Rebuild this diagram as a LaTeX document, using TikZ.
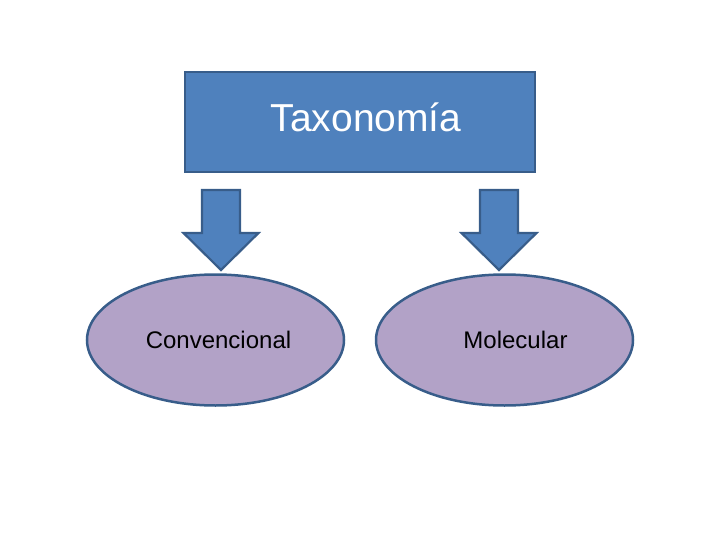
\documentclass[tikz,border=0pt]{standalone}
\usepackage{fontspec}
\setmainfont{Liberation Sans}
\usetikzlibrary{shapes.geometric}

\definecolor{boxblue}{HTML}{4F81BD}
\definecolor{edgeblue}{HTML}{385D8A}
\definecolor{lilac}{HTML}{B2A2C7}

\begin{document}
\begin{tikzpicture}[
  x=1pt, y=-1pt,
  top/.style={draw=edgeblue, line width=2.5pt, fill=boxblue, minimum width=350pt, minimum height=100pt, inner sep=0pt},
  oval/.style={ellipse, draw=edgeblue, line width=2.5pt, fill=lilac, minimum width=257pt, minimum height=131pt, inner sep=0pt},
  lbl/.style={font=\fontsize{24}{28}\selectfont},
  downarrow/.pic={
    \draw[draw=edgeblue, line width=2.2pt, fill=boxblue, line join=miter]
      (-19,-80) -- (19,-80) -- (19,-37) -- (37.5,-37) -- (0,0)
      -- (-37.5,-37) -- (-19,-37) -- cycle;
  }
]
  \useasboundingbox (0,0) rectangle (720,540);

  \node[top] (tax) at (360,122) {};
  \node[font=\fontsize{39}{44}\selectfont, text=white] (taxtext) at (366,117) {Taxonomía};

  \node[oval, label={[lbl, xshift=3pt]center:Convencional}] (conv) at (215.5,340) {};
  \node[oval, label={[lbl, xshift=11pt]center:Molecular}] (mol) at (504.5,340) {};

  % block arrows from the box down to each oval
  \pic at (221,270) {downarrow};
  \pic at (499,270) {downarrow};
\end{tikzpicture}
\end{document}
